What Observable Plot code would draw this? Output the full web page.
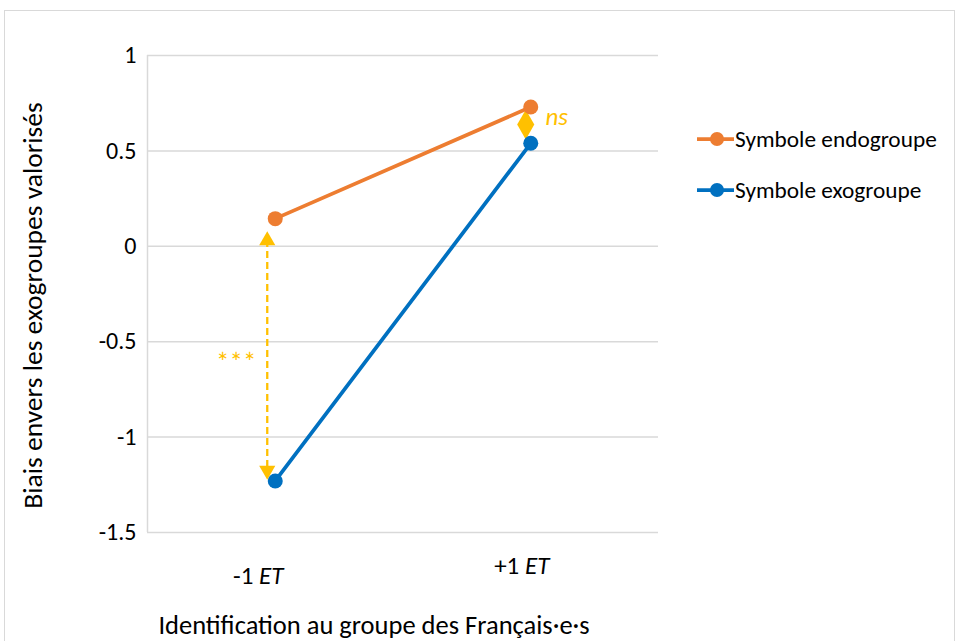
<!DOCTYPE html>
<html><head><meta charset="utf-8">
<script src="https://cdn.jsdelivr.net/npm/d3@7"></script>
<script src="https://cdn.jsdelivr.net/npm/@observablehq/plot@0.6"></script>
<style>
body{margin:0;background:#fff;}
#wrap{position:relative;width:956px;height:641px;overflow:hidden;background:#fff;}
#border{position:absolute;left:4px;top:10px;width:951px;height:680px;border:1.5px solid #d9d9d9;box-sizing:border-box;}
#chart{position:absolute;left:0;top:0;}
</style></head><body>
<div id="wrap"><div id="border"></div><div id="chart"></div></div>
<script>
const categories = ["-1 ET", "+1 ET"];
const seriesNames = ["Symbole endogroupe", "Symbole exogroupe"];
const endogroupe = [0.145, 0.73];
const exogroupe = [-1.23, 0.54];
const yTicks = [-1.5, -1, -0.5, 0, 0.5, 1];
const colors = ["#ED7D31", "#0070C0"];
const yTitle = "Biais envers les exogroupes valorisés";
const xTitle = "Identification au groupe des Français·e·s";
const sigLabels = ["***", "ns"];

const FONT = "Carlito, Calibri, 'Open Sans', sans-serif";
const GOLD = "#FFC000";

const data = [];
categories.forEach((c, i) => data.push({x: i + 0.5, cat: c, value: endogroupe[i], series: seriesNames[0]}));
categories.forEach((c, i) => data.push({x: i + 0.5, cat: c, value: exogroupe[i], series: seriesNames[1]}));

const plot = Plot.plot({
  width: 956, height: 641,
  marginLeft: 147, marginRight: 298, marginTop: 55, marginBottom: 109,
  style: {fontFamily: FONT, fontSize: "24px", color: "#000", background: "transparent"},
  x: {domain: [0, 2], axis: null},
  y: {domain: [-1.5, 1], axis: null},
  color: {domain: seriesNames, range: colors},
  marks: [
    Plot.gridY(yTicks, {stroke: "#d9d9d9", strokeOpacity: 1, strokeWidth: 1.5}),
    Plot.ruleX([0], {stroke: "#d9d9d9", strokeWidth: 1.5}),
    Plot.axisY(yTicks, {label: null, tickSize: 0, tickPadding: 11, fontSize: 24, tickFormat: d => String(d), fill: "#000"}),
    Plot.axisX([0.5], {label: null, tickSize: 0, tickPadding: 0, fontSize: 25, dx: -17, dy: 43, lineAnchor: "middle", tickFormat: d => categories[d - 0.5], fill: "#000"}),
    Plot.axisX([1.5], {label: null, tickSize: 0, tickPadding: 0, fontSize: 25, dx: -9, dy: 33, lineAnchor: "middle", tickFormat: d => categories[d - 0.5], fill: "#000"}),
    Plot.text([yTitle], {x: -0.446, y: -0.31, rotate: -90, fontSize: 27.5, fill: "#000"}),
    Plot.text([xTitle], {frameAnchor: "bottom", lineAnchor: "middle", dy: 93, dx: -29, fontSize: 26.5, fill: "#000"}),
    // significance annotation at -1 ET
    Plot.ruleX([0.5], {y1: 0.03, y2: -1.17, dx: -8, stroke: GOLD, strokeWidth: 2.3, strokeDasharray: "7,4"}),
    Plot.dot([0.5], {x: d => d, y: 0.03, dx: -8, symbol: "triangle", r: 6, fill: GOLD, stroke: "none"}),
    Plot.dot([0.5], {x: d => d, y: -1.175, dx: -8, symbol: "triangle", rotate: 180, r: 6, fill: GOLD, stroke: "none"}),
    Plot.text([sigLabels[0]], {x: 0.5, y: -0.583, dx: -39, dy: 5, fill: GOLD, fontSize: 27}),
    // ns annotation at +1 ET
    Plot.dot([1.5], {x: d => d, y: 0.638, dx: -5, symbol: "diamond", r: 9, fill: GOLD, stroke: "none"}),
    Plot.text([sigLabels[1]], {x: 1.5, y: 0.68, dx: 26, fill: GOLD, fontSize: 25, fontStyle: "italic"}),
    // series
    Plot.line(data, {x: "x", y: "value", stroke: "series", strokeWidth: 3.75}),
    Plot.dot(data, {x: "x", y: "value", fill: "series", r: 7.5, stroke: "none"})
  ]
});
document.getElementById("chart").appendChild(plot);

const svg = d3.select(plot);
// italic "ET" in category labels
svg.selectAll('[aria-label="x-axis tick label"] text').each(function() {
  const t = d3.select(this);
  const s = t.text();
  const parts = s.split(" ");
  t.text(null);
  t.append("tspan").text(parts[0] + " ");
  t.append("tspan").attr("font-style", "italic").text(parts.slice(1).join(" "));
});

// legend
const legend = svg.append("g").attr("font-family", FONT).attr("font-size", 23.3).attr("text-anchor", "start");
seriesNames.forEach((name, i) => {
  const y = 139 + i * 51;
  legend.append("line").attr("x1", 697).attr("x2", 734).attr("y1", y).attr("y2", y)
    .attr("stroke", colors[i]).attr("stroke-width", 3.75);
  legend.append("circle").attr("cx", 717).attr("cy", y).attr("r", 7).attr("fill", colors[i]);
  legend.append("text").attr("x", 735).attr("y", y).attr("dy", "0.35em").attr("fill", "#000").text(name);
});
</script>
</body></html>
